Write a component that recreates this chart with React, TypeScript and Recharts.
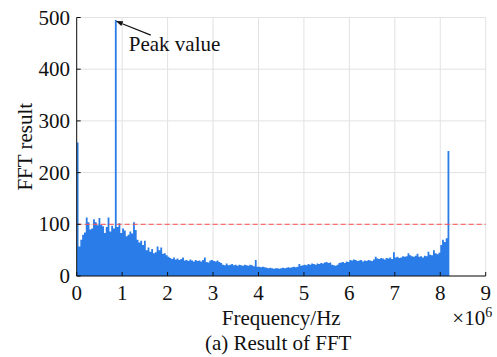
import React from "react";
import {
  ComposedChart,
  Area,
  XAxis,
  YAxis,
  CartesianGrid,
  ReferenceLine,
  ReferenceDot,
} from "recharts";

// FFT magnitude for each frequency bin; bins are 0.04 ×10^6 Hz apart, starting at 0
const binStep = 0.04;
const fftMagnitude = [
  258, 57, 70, 80, 84, 113, 104, 90, 92, 110,
  104, 98, 112, 99, 96, 83, 95, 113, 86, 97,
  92, 495, 95, 102, 83, 92, 88, 77, 80, 86,
  82, 104, 89, 70, 65, 68, 60, 68, 50, 55,
  47, 52, 44, 46, 57, 50, 55, 43, 44, 40,
  37, 35, 33, 36, 32, 34, 31, 33, 36, 30,
  31, 29, 32, 30, 28, 31, 29, 30, 28, 31,
  36, 27, 26, 30, 31, 29, 28, 30, 27, 25,
  22, 21, 24, 21, 22, 23, 21, 22, 20, 22,
  21, 20, 22, 21, 20, 22, 21, 19, 31, 18,
  18, 17, 18, 17, 16, 15, 16, 15, 14, 15,
  15, 14, 15, 16, 15, 16, 17, 16, 17, 18,
  17, 18, 23, 20, 21, 22, 21, 23, 22, 24,
  23, 22, 24, 23, 25, 24, 26, 27, 25, 26,
  22, 21, 20, 22, 25, 26, 27, 25, 28, 27,
  31, 30, 32, 31, 29, 30, 31, 28, 30, 29,
  31, 30, 29, 32, 37, 34, 33, 35, 34, 32,
  35, 34, 36, 33, 46, 36, 37, 35, 36, 38,
  37, 38, 44, 40, 38, 37, 39, 43, 37, 38,
  36, 39, 38, 47, 41, 40, 50, 44, 42, 45,
  60, 70, 66, 73, 242, 0,
];

const xTicks = [0, 1, 2, 3, 4, 5, 6, 7, 8, 9];
const yTicks = [0, 100, 200, 300, 400, 500];
const threshold = 100;
const peak = { bin: 21, value: 495, label: "Peak value" };

const spectrum = fftMagnitude.map((value, i) => ({
  freq: Math.round(i * binStep * 100) / 100,
  value,
}));

const font = '"Liberation Serif", "Times New Roman", serif';
const fontSize = 21;
const blue = "#2a7de8";
const ink = "#111";
const textStyle = { fontFamily: font, fontSize, fill: ink };

// Arrow pointing at the top of the main spike, with its caption below-right
const PeakArrow = (props: any) => {
  const { cx, cy } = props;
  const tip = { x: cx, y: cy + 1 };
  const tail = { x: cx + 35, y: cy + 15 };
  const dx = tip.x - tail.x;
  const dy = tip.y - tail.y;
  const len = Math.hypot(dx, dy);
  const ux = dx / len;
  const uy = dy / len;
  const bx = tip.x - ux * 7;
  const by = tip.y - uy * 7;
  const head = `${tip.x},${tip.y} ${bx - uy * 2.6},${by + ux * 2.6} ${bx + uy * 2.6},${by - ux * 2.6}`;
  return (
    <g>
      <line x1={tail.x} y1={tail.y} x2={bx} y2={by} stroke={ink} strokeWidth={1.2} />
      <polygon points={head} fill={ink} />
      <text x={cx + 13} y={cy + 31} style={textStyle}>
        {peak.label}
      </text>
    </g>
  );
};

// Tick labels below the frequency axis (baseline 24px under the axis line)
const FreqTick = ({ x, payload }: any) => (
  <text x={x} y={300} textAnchor="middle" style={textStyle}>
    {payload.value}
  </text>
);

// Tick labels left of the magnitude axis
const MagTick = ({ x, y, payload }: any) => (
  <text x={x} y={y} dy={7} textAnchor="end" style={textStyle}>
    {payload.value}
  </text>
);

const XTitles = ({ viewBox }: any) => {
  const { x, y, width } = viewBox;
  const mid = x + width / 2;
  return (
    <g>
      <text x={mid} y={y + 48.5} textAnchor="middle" style={textStyle}>
        Frequency/Hz
      </text>
      <text x={x + width + 6.5} y={y + 49} textAnchor="end" style={textStyle}>
        ×10<tspan dy={-8} style={{ fontSize: 14 }}>6</tspan>
      </text>
      <text x={mid - 3} y={y + 74} textAnchor="middle" style={textStyle}>
        (a) Result of FFT
      </text>
    </g>
  );
};

const YTitle = ({ viewBox }: any) => {
  const { y, height } = viewBox;
  const cx = 31.5;
  const cy = y + height / 2;
  return (
    <text
      x={cx}
      y={cy}
      transform={`rotate(-90, ${cx}, ${cy})`}
      textAnchor="middle"
      style={textStyle}
    >
      FFT result
    </text>
  );
};

export default function App() {
  return (
    <div
      style={{
        position: "absolute",
        left: 0,
        top: 0,
        width: 497,
        height: 357,
        background: "#fff",
        fontFamily: font,
      }}
    >
      <ComposedChart
        width={497}
        height={357}
        data={spectrum}
        margin={{ top: 17.5, right: 11.3, left: 26.7, bottom: 0 }}
        style={{ fontFamily: font }}
      >
        <CartesianGrid stroke="#e2e2e2" strokeWidth={1} />
        <XAxis
          dataKey="freq"
          type="number"
          domain={[0, 9]}
          ticks={xTicks}
          interval={0}
          allowDataOverflow
          height={81}
          tickSize={-4}
          tickMargin={13}
          tick={<FreqTick />}
          axisLine={{ stroke: ink }}
          tickLine={{ stroke: ink }}
          label={<XTitles />}
        />
        <XAxis
          xAxisId="top"
          orientation="top"
          type="number"
          domain={[0, 9]}
          ticks={xTicks}
          interval={0}
          allowDataOverflow
          height={0}
          tickSize={-4}
          tick={false}
          axisLine={{ stroke: ink }}
          tickLine={{ stroke: ink }}
        />
        <YAxis
          type="number"
          domain={[0, 500]}
          ticks={yTicks}
          interval={0}
          allowDataOverflow
          width={50}
          tickSize={-4}
          tickMargin={10.7}
          tick={<MagTick />}
          axisLine={{ stroke: ink }}
          tickLine={{ stroke: ink }}
          label={<YTitle />}
        />
        <YAxis
          yAxisId="right"
          orientation="right"
          type="number"
          domain={[0, 500]}
          ticks={yTicks}
          interval={0}
          allowDataOverflow
          width={0}
          tickSize={-4}
          tick={false}
          axisLine={{ stroke: ink }}
          tickLine={{ stroke: ink }}
        />
        <Area
          type="stepAfter"
          dataKey="value"
          stroke="none"
          fill={blue}
          fillOpacity={1}
          baseValue={0}
          dot={false}
          activeDot={false}
          isAnimationActive={false}
        />
        <ReferenceLine y={threshold} stroke="#ff5050" strokeWidth={1} strokeDasharray="5 3" />
        <ReferenceDot
          x={spectrum[peak.bin].freq + binStep / 2}
          y={peak.value}
          r={0}
          shape={<PeakArrow />}
        />
      </ComposedChart>
    </div>
  );
}
